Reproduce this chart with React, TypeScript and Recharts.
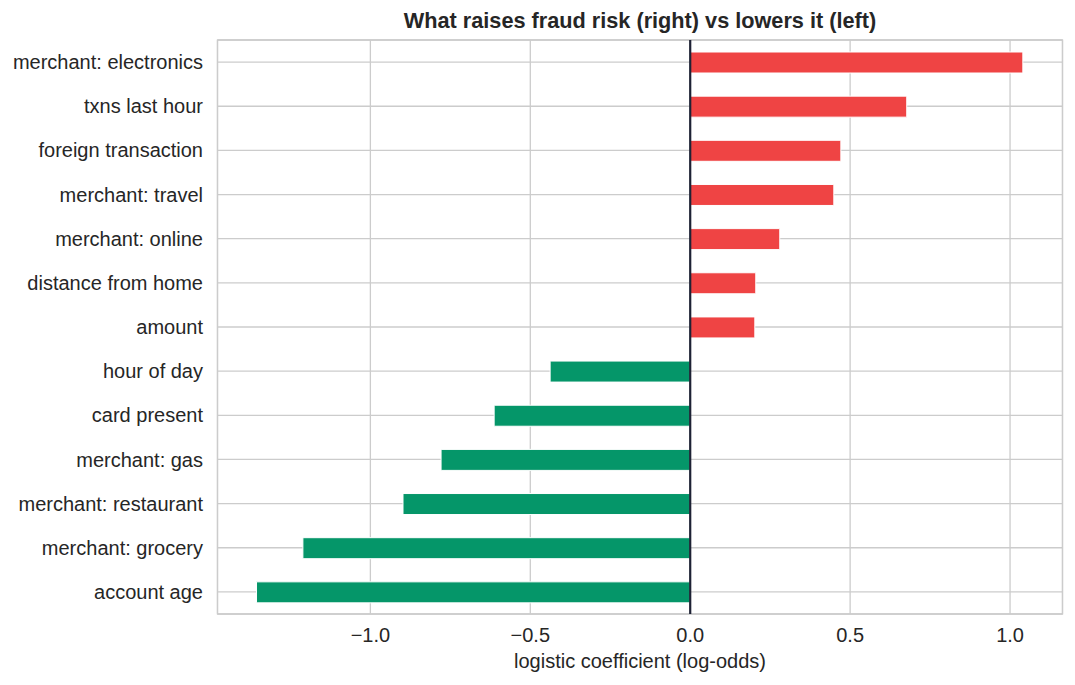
import { BarChart, Bar, XAxis, YAxis, CartesianGrid, ReferenceLine, ReferenceArea, Cell } from 'recharts'

const features = [
    'merchant: electronics',
    'txns last hour',
    'foreign transaction',
    'merchant: travel',
    'merchant: online',
    'distance from home',
    'amount',
    'hour of day',
    'card present',
    'merchant: gas',
    'merchant: restaurant',
    'merchant: grocery',
    'account age',
]
const coefficients = [1.04, 0.677, 0.471, 0.449, 0.28, 0.205, 0.202, -0.438, -0.613, -0.779, -0.898, -1.211, -1.356]
const xTicks = [-1, -0.5, 0, 0.5, 1]

const xMin = -1.478
const xMax = 1.164

const data = features.map((feature, i) => ({ feature, coef: coefficients[i] }))

const fontFamily = '"Liberation Sans", Arial, Helvetica, sans-serif'
const textColor = '#262626'
const gridColor = '#cccccc'

const fmt = (v: number) => (v < 0 ? '\u2212' : '') + Math.abs(v).toFixed(1)

export default function App() {
    return (
        <div style={{ position: 'absolute', left: 0, top: 0, width: 1075, height: 685, background: '#fff', fontFamily }}>
            <svg width={1075} height={40} style={{ position: 'absolute', left: 0, top: 0 }}>
                <text x={640} y={28} textAnchor="middle" fontSize={21.7} fontWeight="bold" fill={textColor} fontFamily={fontFamily}>
                    What raises fraud risk (right) vs lowers it (left)
                </text>
            </svg>
            <BarChart
                width={1075}
                height={685}
                data={data}
                layout="vertical"
                margin={{ top: 40, right: 12.5, bottom: 0, left: 0 }}
                barSize={21}
            >
                <CartesianGrid stroke={gridColor} strokeWidth={1.3} />
                <XAxis
                    type="number"
                    domain={[xMin, xMax]}
                    ticks={xTicks}
                    allowDataOverflow
                    tickFormatter={fmt}
                    axisLine={false}
                    tickLine={false}
                    tickSize={0}
                    tickMargin={13.5}
                    height={71}
                    tick={{ fontSize: 20, fill: textColor, fontFamily }}
                    label={{ value: 'logistic coefficient (log-odds)', position: 'insideBottom', offset: 17, fontSize: 20, fill: textColor, fontFamily }}
                />
                <YAxis
                    type="category"
                    dataKey="feature"
                    width={217.5}
                    interval={0}
                    axisLine={false}
                    tickLine={false}
                    tickSize={0}
                    tickMargin={14.5}
                    tick={{ fontSize: 20, fill: textColor, fontFamily }}
                />
                <ReferenceArea x1={xMin} x2={xMax} fill="none" stroke={gridColor} strokeWidth={1.3} ifOverflow="extendDomain" />
                <Bar dataKey="coef" stroke="#ffffff" strokeWidth={1} isAnimationActive={false}>
                    {data.map((d) => (
                        <Cell key={d.feature} fill={d.coef >= 0 ? '#ef4444' : '#059669'} />
                    ))}
                </Bar>
                <ReferenceLine x={0} stroke="#1e2235" strokeWidth={2.2} />
            </BarChart>
        </div>
    )
}
